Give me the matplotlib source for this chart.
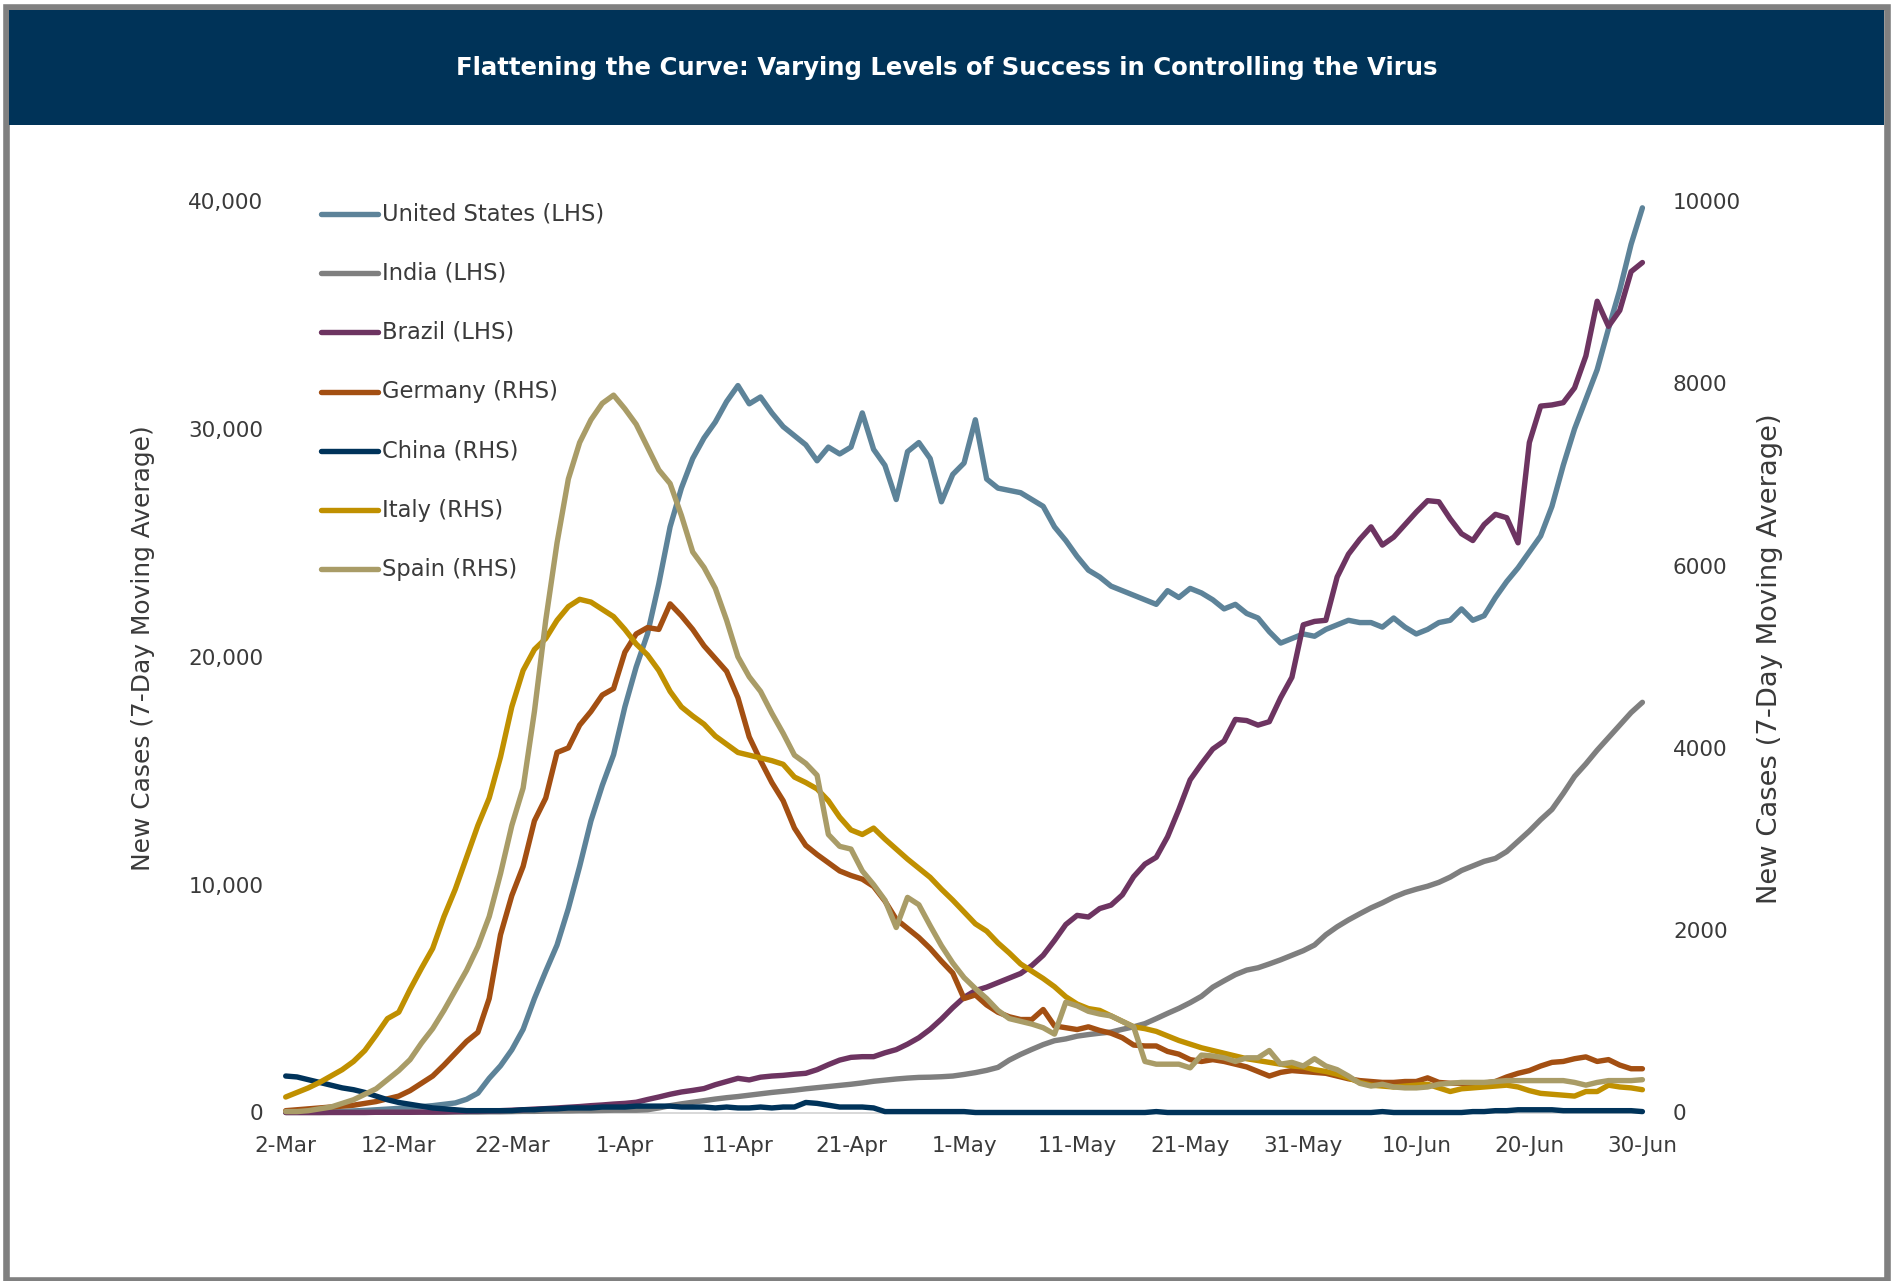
import numpy as np
import matplotlib
matplotlib.use("Agg")
import matplotlib.pyplot as plt
from matplotlib.patches import Rectangle
from matplotlib.lines import Line2D

# ---------------------------------------------------------------------------
# Data: 7-day moving average of new daily cases, 2-Mar to 30-Jun (thousands)
# ---------------------------------------------------------------------------
tick_labels = ["2-Mar", "12-Mar", "22-Mar", "1-Apr", "11-Apr", "21-Apr", "1-May",
               "11-May", "21-May", "31-May", "10-Jun", "20-Jun", "30-Jun"]

# left-hand scale series
united_states = [
    0.01, 0.02, 0.02, 0.03, 0.04, 0.05, 0.07, 0.09, 0.12, 0.15,
    0.18, 0.22, 0.26, 0.30, 0.36, 0.42, 0.58, 0.85, 1.50, 2.05,
    2.75, 3.65, 5.00, 6.20, 7.35, 8.95, 10.80, 12.80, 14.35, 15.70,
    17.80, 19.55, 21.00, 23.20, 25.70, 27.40, 28.70, 29.60, 30.30, 31.20,
    31.90, 31.10, 31.40, 30.70, 30.10, 29.70, 29.30, 28.60, 29.20, 28.90,
    29.20, 30.70, 29.10, 28.40, 26.90, 29.00, 29.40, 28.70, 26.80, 28.00,
    28.50, 30.40, 27.80, 27.40, 27.30, 27.20, 26.90, 26.60, 25.70, 25.10,
    24.40, 23.80, 23.50, 23.10, 22.90, 22.70, 22.50, 22.30, 22.90, 22.60,
    23.00, 22.80, 22.50, 22.10, 22.30, 21.90, 21.70, 21.10, 20.60, 20.80,
    21.00, 20.90, 21.20, 21.40, 21.60, 21.50, 21.50, 21.30, 21.70, 21.30,
    21.00, 21.20, 21.50, 21.60, 22.10, 21.60, 21.80, 22.60, 23.30, 23.90,
    24.60, 25.30, 26.60, 28.40, 30.00, 31.30, 32.60, 34.40, 36.10, 38.10,
    39.70]

india = [
    0.00, 0.00, 0.00, 0.00, 0.01, 0.01, 0.01, 0.01, 0.01, 0.01,
    0.01, 0.01, 0.01, 0.01, 0.01, 0.02, 0.02, 0.02, 0.03, 0.03,
    0.04, 0.05, 0.05, 0.06, 0.07, 0.07, 0.08, 0.08, 0.09, 0.10,
    0.10, 0.10, 0.12, 0.20, 0.30, 0.38, 0.45, 0.52, 0.59, 0.65,
    0.70, 0.76, 0.82, 0.88, 0.93, 0.98, 1.04, 1.09, 1.14, 1.19,
    1.24, 1.30, 1.37, 1.42, 1.47, 1.51, 1.54, 1.55, 1.57, 1.60,
    1.67, 1.75, 1.85, 1.98, 2.30, 2.55, 2.77, 2.98, 3.15, 3.23,
    3.35, 3.42, 3.48, 3.53, 3.65, 3.76, 3.90, 4.12, 4.35, 4.57,
    4.82, 5.10, 5.50, 5.78, 6.05, 6.25, 6.35, 6.52, 6.70, 6.90,
    7.10, 7.35, 7.80, 8.15, 8.45, 8.72, 8.98, 9.20, 9.45, 9.65,
    9.80, 9.93, 10.10, 10.33, 10.62, 10.82, 11.02, 11.15, 11.45, 11.90,
    12.35, 12.85, 13.30, 14.00, 14.75, 15.30, 15.90, 16.45, 17.00, 17.55,
    18.00]

brazil = [
    0.00, 0.00, 0.00, 0.00, 0.00, 0.00, 0.00, 0.00, 0.01, 0.01,
    0.01, 0.01, 0.02, 0.02, 0.03, 0.04, 0.05, 0.06, 0.07, 0.08,
    0.10, 0.12, 0.15, 0.17, 0.20, 0.23, 0.26, 0.30, 0.33, 0.37,
    0.40, 0.45, 0.57, 0.68, 0.80, 0.90, 0.97, 1.05, 1.22, 1.36,
    1.50, 1.43, 1.55, 1.60, 1.63, 1.68, 1.72, 1.88, 2.10, 2.30,
    2.42, 2.45, 2.45, 2.62, 2.76, 3.00, 3.28, 3.65, 4.10, 4.60,
    5.05, 5.35, 5.50, 5.70, 5.90, 6.10, 6.45, 6.90, 7.55, 8.25,
    8.65, 8.58, 8.95, 9.10, 9.55, 10.35, 10.90, 11.20, 12.10, 13.30,
    14.60, 15.30, 15.95, 16.30, 17.25, 17.20, 17.00, 17.15, 18.20, 19.10,
    21.40, 21.55, 21.60, 23.50, 24.50, 25.15, 25.70, 24.90, 25.25, 25.80,
    26.35, 26.85, 26.80, 26.05, 25.40, 25.10, 25.80, 26.25, 26.10, 25.00,
    29.40, 31.00, 31.05, 31.15, 31.80, 33.20, 35.60, 34.50, 35.20, 36.90,
    37.30]

# right-hand scale series
germany = [
    0.02, 0.03, 0.04, 0.05, 0.06, 0.07, 0.08, 0.10, 0.12, 0.15,
    0.18, 0.24, 0.32, 0.40, 0.52, 0.65, 0.78, 0.88, 1.25, 1.95,
    2.38, 2.70, 3.20, 3.45, 3.95, 4.00, 4.25, 4.40, 4.58, 4.65,
    5.05, 5.25, 5.32, 5.30, 5.58, 5.45, 5.30, 5.12, 4.98, 4.84,
    4.55, 4.12, 3.86, 3.62, 3.42, 3.12, 2.93, 2.83, 2.74, 2.65,
    2.60, 2.56, 2.48, 2.32, 2.12, 2.02, 1.92, 1.80, 1.66, 1.53,
    1.25, 1.29, 1.18, 1.10, 1.05, 1.02, 1.02, 1.13, 0.95, 0.93,
    0.91, 0.94, 0.90, 0.87, 0.82, 0.74, 0.73, 0.73, 0.67, 0.64,
    0.58, 0.56, 0.58, 0.56, 0.53, 0.50, 0.45, 0.40, 0.44, 0.46,
    0.45, 0.44, 0.43, 0.40, 0.37, 0.35, 0.34, 0.33, 0.33, 0.34,
    0.34, 0.38, 0.33, 0.32, 0.32, 0.32, 0.32, 0.34, 0.39, 0.43,
    0.46, 0.51, 0.55, 0.56, 0.59, 0.61, 0.56, 0.58, 0.52, 0.48,
    0.48]

china = [
    0.40, 0.39, 0.36, 0.33, 0.30, 0.27, 0.25, 0.22, 0.18, 0.14,
    0.11, 0.09, 0.07, 0.05, 0.04, 0.03, 0.02, 0.02, 0.02, 0.02,
    0.02, 0.03, 0.03, 0.04, 0.04, 0.05, 0.05, 0.05, 0.06, 0.06,
    0.06, 0.07, 0.07, 0.07, 0.07, 0.06, 0.06, 0.06, 0.05, 0.06,
    0.05, 0.05, 0.06, 0.05, 0.06, 0.06, 0.11, 0.10, 0.08, 0.06,
    0.06, 0.06, 0.05, 0.01, 0.01, 0.01, 0.01, 0.01, 0.01, 0.01,
    0.01, 0.00, 0.00, 0.00, 0.00, 0.00, 0.00, 0.00, 0.00, 0.00,
    0.00, 0.00, 0.00, 0.00, 0.00, 0.00, 0.00, 0.01, 0.00, 0.00,
    0.00, 0.00, 0.00, 0.00, 0.00, 0.00, 0.00, 0.00, 0.00, 0.00,
    0.00, 0.00, 0.00, 0.00, 0.00, 0.00, 0.00, 0.01, 0.00, 0.00,
    0.00, 0.00, 0.00, 0.00, 0.00, 0.01, 0.01, 0.02, 0.02, 0.03,
    0.03, 0.03, 0.03, 0.02, 0.02, 0.02, 0.02, 0.02, 0.02, 0.02,
    0.01]

italy = [
    0.17, 0.22, 0.27, 0.33, 0.40, 0.47, 0.56, 0.68, 0.85, 1.03,
    1.10, 1.35, 1.58, 1.80, 2.15, 2.45, 2.80, 3.15, 3.45, 3.90,
    4.45, 4.85, 5.08, 5.20, 5.40, 5.55, 5.63, 5.60, 5.52, 5.44,
    5.30, 5.14, 5.02, 4.85, 4.62, 4.45, 4.35, 4.26, 4.13, 4.04,
    3.95, 3.92, 3.89, 3.86, 3.82, 3.68, 3.62, 3.55, 3.42, 3.24,
    3.10, 3.05, 3.12, 3.00, 2.89, 2.78, 2.68, 2.58, 2.45, 2.33,
    2.20, 2.07, 1.99, 1.86, 1.75, 1.63, 1.55, 1.47, 1.38, 1.27,
    1.19, 1.14, 1.12, 1.06, 1.00, 0.94, 0.92, 0.89, 0.84, 0.79,
    0.75, 0.71, 0.68, 0.65, 0.62, 0.59, 0.57, 0.55, 0.53, 0.51,
    0.50, 0.47, 0.45, 0.42, 0.38, 0.33, 0.30, 0.29, 0.28, 0.29,
    0.30, 0.31, 0.27, 0.23, 0.26, 0.27, 0.28, 0.29, 0.30, 0.28,
    0.24, 0.21, 0.20, 0.19, 0.18, 0.23, 0.23, 0.30, 0.28, 0.27,
    0.25]

spain = [
    0.01, 0.01, 0.02, 0.04, 0.06, 0.10, 0.14, 0.20, 0.26, 0.36,
    0.46, 0.58, 0.76, 0.92, 1.12, 1.34, 1.56, 1.82, 2.15, 2.62,
    3.15, 3.56, 4.40, 5.40, 6.25, 6.95, 7.35, 7.60, 7.78, 7.87,
    7.72, 7.55, 7.30, 7.05, 6.90, 6.55, 6.15, 5.98, 5.75, 5.40,
    5.00, 4.78, 4.62, 4.38, 4.16, 3.92, 3.83, 3.70, 3.05, 2.92,
    2.89, 2.65, 2.50, 2.33, 2.03, 2.36, 2.28, 2.05, 1.83, 1.64,
    1.48, 1.36, 1.25, 1.12, 1.03, 1.00, 0.97, 0.93, 0.86, 1.21,
    1.17, 1.11, 1.08, 1.06, 1.00, 0.94, 0.56, 0.53, 0.53, 0.53,
    0.49, 0.63, 0.62, 0.60, 0.56, 0.60, 0.60, 0.68, 0.53, 0.55,
    0.51, 0.59, 0.51, 0.47, 0.40, 0.32, 0.29, 0.31, 0.28, 0.27,
    0.27, 0.28, 0.31, 0.32, 0.33, 0.33, 0.33, 0.34, 0.35, 0.35,
    0.35, 0.35, 0.35, 0.35, 0.33, 0.30, 0.33, 0.35, 0.35, 0.35,
    0.36]

lhs_series = [("United States (LHS)", united_states, "#5d8399"),
              ("India (LHS)", india, "#7f7f7f"),
              ("Brazil (LHS)", brazil, "#6d3461")]
rhs_series = [("Germany (RHS)", germany, "#a34f12"),
              ("China (RHS)", china, "#00335a"),
              ("Italy (RHS)", italy, "#c09000"),
              ("Spain (RHS)", spain, "#a99c67")]

title = "Flattening the Curve: Varying Levels of Success in Controlling the Virus"
axis_title = "New Cases (7-Day Moving Average)"

# ---------------------------------------------------------------------------
# Figure and decorations (layout given in pixels of a 1898 x 1281 canvas)
# ---------------------------------------------------------------------------
W, H = 1898, 1281
fig = plt.figure(figsize=(W / 100, H / 100), dpi=100)
fig.patch.set_facecolor("white")
PT = 0.72  # points per pixel at 100 dpi
TXT = "#3a3a3a"


def fx(px):
    return px / W


def fy(py):
    return 1 - py / H


def fit_length(text, target_px, vertical=False):
    """Scale a text's font size so that its run length equals target_px."""
    renderer = fig.canvas.get_renderer()
    bb = text.get_window_extent(renderer)
    length = bb.height if vertical else bb.width
    text.set_fontsize(text.get_fontsize() * target_px / length)
    return text.get_fontsize()


# outer grey frame and navy title banner
fig.add_artist(Rectangle((fx(6), fy(1279.5)), fx(1887.4) - fx(6), fy(7) - fy(1279.5),
                         transform=fig.transFigure, fill=False,
                         edgecolor="#808080", linewidth=6.6 * PT))
fig.add_artist(Rectangle((fx(9.3), fy(125)), fx(1884) - fx(9.3), fy(10) - fy(125),
                         transform=fig.transFigure, facecolor="#003358",
                         edgecolor="none"))
t_title = fig.text(fx(947), fy(68), title, color="white", fontsize=17,
                   fontweight="bold", ha="center", va="center")
fit_length(t_title, 988)

# plotting area
x0, x1, ytop, ybot = 285.7, 1642.4, 201, 1112.5
ax = fig.add_axes([fx(x0), fy(ybot), fx(x1) - fx(x0), fy(ytop) - fy(ybot)])
ax2 = ax.twinx()

days = np.arange(len(united_states))
LW = 5.4 * PT
handles = []
for label, vals, color in lhs_series:
    (ln,) = ax.plot(days, np.asarray(vals) * 1000, color=color, lw=LW,
                    solid_capstyle="round", solid_joinstyle="round",
                    clip_on=False, label=label)
    handles.append(ln)
for label, vals, color in rhs_series:
    (ln,) = ax2.plot(days, np.asarray(vals) * 1000, color=color, lw=LW,
                     solid_capstyle="round", solid_joinstyle="round",
                     clip_on=False, label=label)
    handles.append(ln)

ax.set_xlim(0, 120)
ax.set_ylim(0, 40000)
ax2.set_ylim(0, 10000)

for a in (ax, ax2):
    for s in a.spines.values():
        s.set_visible(False)
ax.spines["bottom"].set_visible(True)
ax.spines["bottom"].set_color("#d9d9d9")
ax.spines["bottom"].set_linewidth(2 * PT)
ax.spines["bottom"].set_zorder(0)

ax.set_xticks(np.arange(0, 121, 10))
ax.set_xticklabels(tick_labels)
lhs_ticks = np.arange(0, 40001, 10000)
ax.set_yticks(lhs_ticks)
ax.set_yticklabels([f"{v:,}" for v in lhs_ticks])
rhs_ticks = np.arange(0, 10001, 2000)
ax2.set_yticks(rhs_ticks)
ax2.set_yticklabels([f"{v}" for v in rhs_ticks])

ax.tick_params(axis="x", length=0, pad=17, labelsize=15.5, labelcolor=TXT)
ax.tick_params(axis="y", length=0, pad=16, labelsize=15.5, labelcolor=TXT)
ax2.tick_params(axis="y", length=0, pad=22, labelsize=15.5, labelcolor=TXT)

# axis titles
t_left = fig.text(fx(143), fy(648), axis_title, rotation=90, ha="center",
                  va="center", color=TXT, fontsize=17)
fit_length(t_left, 446, vertical=True)
t_right = fig.text(fx(1770), fy(659), axis_title, rotation=90, ha="center",
                   va="center", color=TXT, fontsize=18)
fit_length(t_right, 491, vertical=True)

# legend, one row per series
row0, row_step = 214, 59.2
for i, h in enumerate(handles):
    yy = fy(row0 + i * row_step)
    fig.add_artist(Line2D([fx(321), fx(378)], [yy, yy], transform=fig.transFigure,
                          color=h.get_color(), lw=LW, solid_capstyle="round"))
    t = fig.text(fx(382), yy, h.get_label(), ha="left", va="center",
                 color=TXT, fontsize=16)
    if i == 0:
        legend_size = fit_length(t, 222)
    else:
        t.set_fontsize(legend_size)

fig.savefig("out.png", dpi=100, facecolor="white")
